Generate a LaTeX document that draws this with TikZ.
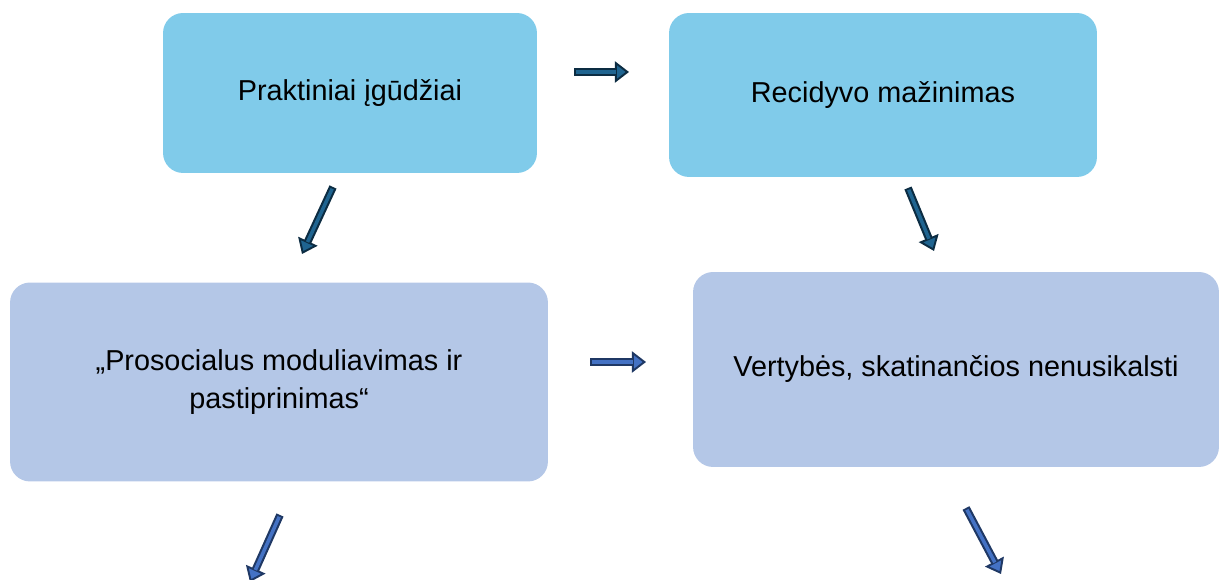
\documentclass[tikz,border=0pt]{standalone}
\usepackage{fontspec}
\setmainfont{Liberation Sans}
\usetikzlibrary{arrows.meta}
\usetikzlibrary{positioning}

\definecolor{topfill}{HTML}{80CBEA}
\definecolor{midfill}{HTML}{B4C7E7}
\definecolor{tealdark}{HTML}{0C2C42}
\definecolor{teallight}{HTML}{1F6490}
\definecolor{navydark}{HTML}{1F3864}
\definecolor{navylight}{HTML}{4472C4}

\tikzset{
    stepbox/.style={
        rectangle, rounded corners=0.4cm,
        draw=none, align=center,
        font=\fontsize{16.4}{22}\selectfont,
        text=black,
    },
    blockarrow/.style 2 args={
        line width=4.4pt, draw=#1,
        -{Triangle[width=12pt,length=8pt,line width=1.1pt,fill=#2]},
        postaction={draw=#2, line width=2pt, -, shorten >=7.5pt, shorten <=1.1pt},
    },
}

\begin{document}
\begin{tikzpicture}[x=0.02cm, y=-0.02cm]
        \useasboundingbox (0,0) rectangle (1224,580);

        % upper row
        \node (skills) at (350,93) [stepbox, fill=topfill,
            minimum width=7.48cm, minimum height=3.2cm] {Praktiniai įgūdžiai};
        \node (relapse) at (883,95) [stepbox, fill=topfill,
            minimum width=8.56cm, minimum height=3.28cm] {Recidyvo mažinimas};

        % lower row
        \node (model) at (279,382) [stepbox, fill=midfill,
            minimum width=10.76cm, minimum height=3.98cm]
            {„Prosocialus moduliavimas ir\\pastiprinimas“};
        \node (values) at (956,369.5) [stepbox, fill=midfill,
            minimum width=10.52cm, minimum height=3.9cm]
            {Vertybės, skatinančios nenusikalsti};

        % arrow ends
        \coordinate (top-s) at (574,72);
        \coordinate (top-e) at (629,72);
        \coordinate (left-s) at (333,187);
        \coordinate (left-e) at (302,254);
        \coordinate (right-s) at (908,188);
        \coordinate (right-e) at (934,251);
        \coordinate (mid-s) at (590,362);
        \coordinate (mid-e) at (646,362);
        \coordinate (low-ls) at (280,515);
        \coordinate (low-le) at (250,582);
        \coordinate (low-rs) at (966,508);
        \coordinate (low-re) at (1001,574);

        \draw[blockarrow={tealdark}{teallight}] (top-s) -- (top-e);
        \draw[blockarrow={tealdark}{teallight}] (left-s) -- (left-e);
        \draw[blockarrow={tealdark}{teallight}] (right-s) -- (right-e);
        \draw[blockarrow={navydark}{navylight}] (mid-s) -- (mid-e);
        \draw[blockarrow={navydark}{navylight}] (low-ls) -- (low-le);
        \draw[blockarrow={navydark}{navylight}] (low-rs) -- (low-re);
\end{tikzpicture}
\end{document}
